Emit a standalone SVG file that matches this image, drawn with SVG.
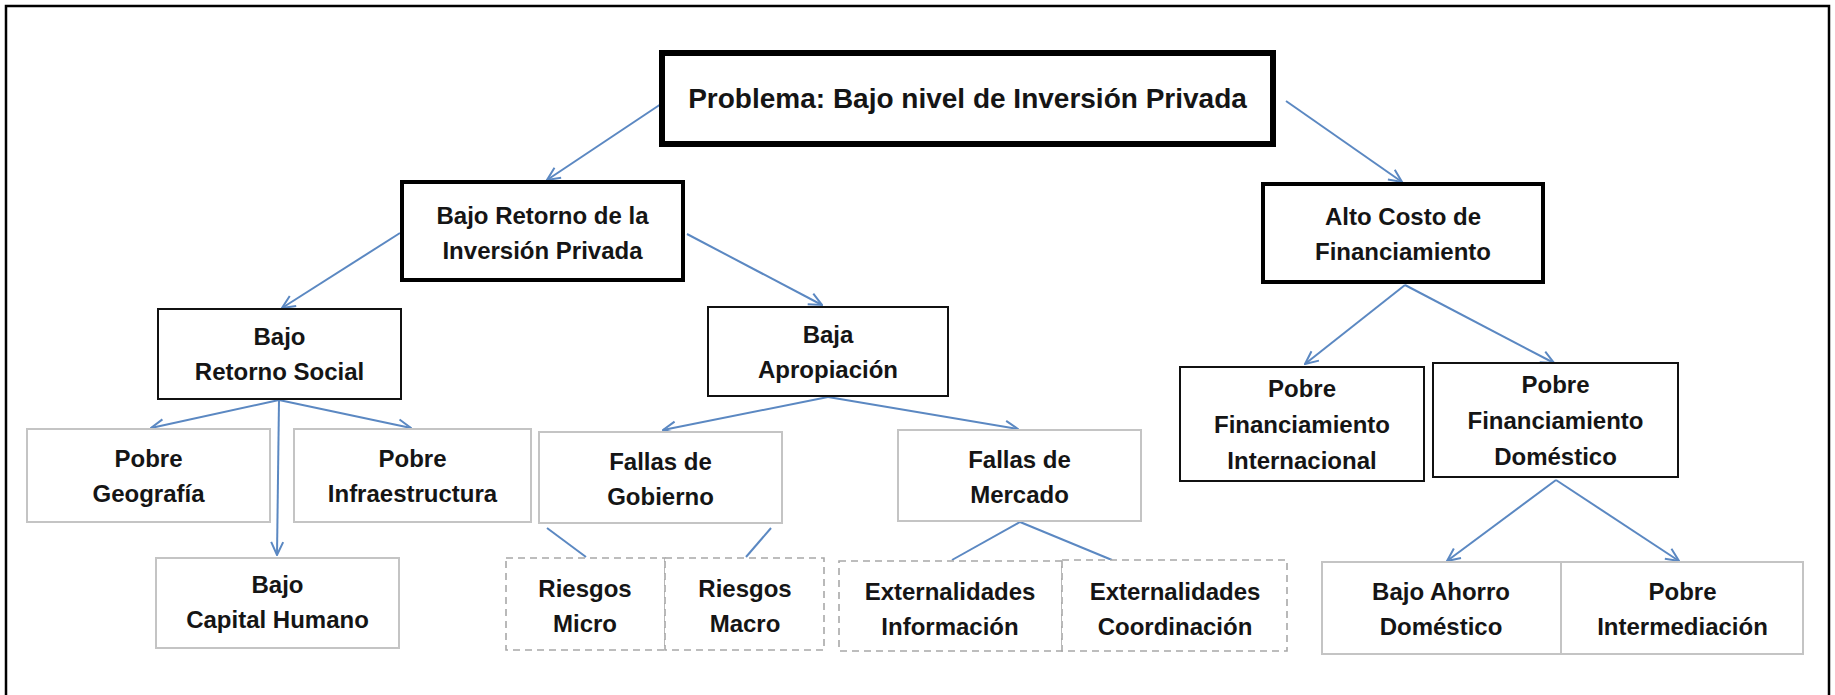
<svg xmlns="http://www.w3.org/2000/svg" width="1835" height="695" viewBox="0 0 1835 695">
<defs>
<style>
text{font-family:"Liberation Sans",Arial,sans-serif;font-weight:bold;font-size:24px;fill:#151515;text-anchor:middle}
.top{font-size:28px}
.thick{fill:#fff;stroke:#000;stroke-width:6}
.mid{fill:#fff;stroke:#000;stroke-width:4}
.thin{fill:#fff;stroke:#111;stroke-width:2}
.gray{fill:#fff;stroke:#c4c4c4;stroke-width:2}
.dash{fill:#fff;stroke:#a8a8a8;stroke-width:1.6;stroke-dasharray:7 5}
.con line{stroke:#5b88c2;stroke-width:2}
.arr{marker-end:url(#ah)}
</style>
<marker id="ah" viewBox="0 0 16 16" refX="15" refY="8" markerWidth="16" markerHeight="16" markerUnits="userSpaceOnUse" orient="auto">
<path d="M2,2 L15,8 L2,14" fill="none" stroke="#5b88c2" stroke-width="2"/>
</marker>
</defs>
<rect x="0" y="0" width="1835" height="695" fill="#fff"/>
<rect x="6" y="6" width="1823" height="710" fill="none" stroke="#000" stroke-width="2.5"/>

<g id="connectors" class="con">
<line class="arr" x1="664" y1="102" x2="547" y2="180"/>
<line class="arr" x1="1286" y1="101" x2="1402" y2="182"/>
<line class="arr" x1="400" y1="233" x2="282" y2="308"/>
<line class="arr" x1="687" y1="234" x2="822" y2="305"/>
<line class="arr" x1="279" y1="400" x2="151" y2="428"/>
<line class="arr" x1="279" y1="400" x2="411" y2="428"/>
<line class="arr" x1="279" y1="400" x2="277" y2="555"/>
<line class="arr" x1="828" y1="397" x2="663" y2="430"/>
<line class="arr" x1="828" y1="397" x2="1018" y2="429"/>
<line x1="547" y1="528" x2="586" y2="557"/>
<line x1="771" y1="528" x2="746" y2="557"/>
<line x1="1020" y1="522" x2="952" y2="560"/>
<line x1="1020" y1="522" x2="1112" y2="560"/>
<line class="arr" x1="1405" y1="285" x2="1305" y2="364"/>
<line class="arr" x1="1405" y1="285" x2="1554" y2="363"/>
<line class="arr" x1="1556" y1="480" x2="1447" y2="561"/>
<line class="arr" x1="1556" y1="480" x2="1679" y2="561"/>
</g>

<g id="n-problema"><rect class="thick" x="662" y="53" width="611" height="91"/><text class="top" x="967.5" y="108">Problema: Bajo nivel de Inversión Privada</text></g>
<g id="n-bajo-retorno-inv"><rect class="mid" x="402" y="182" width="281" height="98"/><text x="542.5" y="224">Bajo Retorno de la</text><text x="542.5" y="259">Inversión Privada</text></g>
<g id="n-alto-costo"><rect class="mid" x="1263" y="184" width="280" height="98"/><text x="1403" y="225">Alto Costo de</text><text x="1403" y="260">Financiamiento</text></g>
<g id="n-retorno-social"><rect class="thin" x="158" y="309" width="243" height="90"/><text x="279.5" y="345">Bajo</text><text x="279.5" y="380">Retorno Social</text></g>
<g id="n-baja-apropiacion"><rect class="thin" x="708" y="307" width="240" height="89"/><text x="828" y="343">Baja</text><text x="828" y="378">Apropiación</text></g>
<g id="n-geografia"><rect class="gray" x="27" y="429" width="243" height="93"/><text x="148.5" y="467">Pobre</text><text x="148.5" y="502">Geografía</text></g>
<g id="n-infraestructura"><rect class="gray" x="294" y="429" width="237" height="93"/><text x="412.5" y="467">Pobre</text><text x="412.5" y="502">Infraestructura</text></g>
<g id="n-capital-humano"><rect class="gray" x="156" y="558" width="243" height="90"/><text x="277.5" y="593">Bajo</text><text x="277.5" y="628">Capital Humano</text></g>
<g id="n-fallas-gobierno"><rect class="gray" x="539" y="432" width="243" height="91"/><text x="660.5" y="470">Fallas de</text><text x="660.5" y="505">Gobierno</text></g>
<g id="n-fallas-mercado"><rect class="gray" x="898" y="430" width="243" height="91"/><text x="1019.5" y="468">Fallas de</text><text x="1019.5" y="503">Mercado</text></g>
<g id="n-riesgos-micro"><rect class="dash" x="506" y="558" width="159" height="92"/><text x="585" y="597">Riesgos</text><text x="585" y="632">Micro</text></g>
<g id="n-riesgos-macro"><rect class="dash" x="665" y="558" width="159" height="92"/><text x="745" y="597">Riesgos</text><text x="745" y="632">Macro</text></g>
<g id="n-ext-info"><rect class="dash" x="839" y="561" width="223" height="90"/><text x="950" y="600">Externalidades</text><text x="950" y="635">Información</text></g>
<g id="n-ext-coord"><rect class="dash" x="1062" y="560" width="225" height="91"/><text x="1175" y="600">Externalidades</text><text x="1175" y="635">Coordinación</text></g>
<g id="n-fin-int"><rect class="thin" x="1180" y="367" width="244" height="114"/><text x="1302" y="397">Pobre</text><text x="1302" y="433">Financiamiento</text><text x="1302" y="469">Internacional</text></g>
<g id="n-fin-dom"><rect class="thin" x="1433" y="363" width="245" height="114"/><text x="1555.5" y="393">Pobre</text><text x="1555.5" y="429">Financiamiento</text><text x="1555.5" y="465">Doméstico</text></g>
<g id="n-ahorro"><rect class="gray" x="1322" y="562" width="239" height="92"/><text x="1441" y="600">Bajo Ahorro</text><text x="1441" y="635">Doméstico</text></g>
<g id="n-intermediacion"><rect class="gray" x="1561" y="562" width="242" height="92"/><text x="1682.5" y="600">Pobre</text><text x="1682.5" y="635">Intermediación</text></g>
</svg>
